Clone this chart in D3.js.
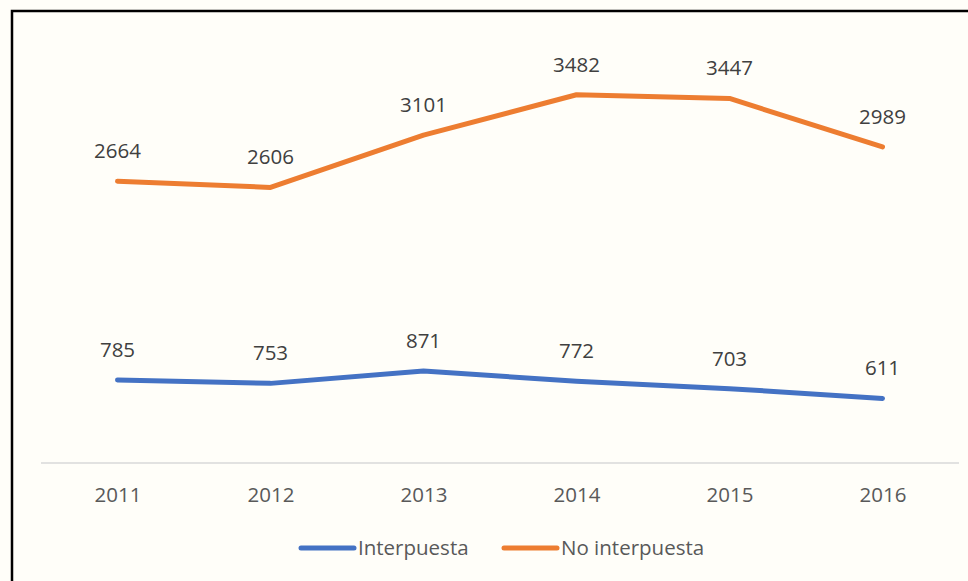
<!DOCTYPE html>
<html>
<head>
<meta charset="utf-8">
<script src="https://cdn.jsdelivr.net/npm/d3@7/dist/d3.min.js"></script>
<style>
  html, body { margin: 0; padding: 0; background: #FFFEF9; }
  svg { display: block; }
</style>
</head>
<body>
<svg id="chart" width="968" height="581"></svg>
<script>
const years = ["2011", "2012", "2013", "2014", "2015", "2016"];
const interpuesta = [785, 753, 871, 772, 703, 611];
const noInterpuesta = [2664, 2606, 3101, 3482, 3447, 2989];
const seriesNames = ["Interpuesta", "No interpuesta"];
const seriesColors = ["#4472C4", "#ED7D31"];

const svg = d3.select("#chart");
const W = 968, H = 581;
const font = "'Open Sans', 'Noto Sans', sans-serif";

svg.append("rect").attr("width", W).attr("height", H).attr("fill", "#FFFEF9");
svg.append("path")
  .attr("d", "M12,581 L12,11 L968,11")
  .attr("fill", "none").attr("stroke", "#000").attr("stroke-width", 2.5);

const x = d3.scalePoint().domain(years).range([41, 959]).padding(0.5);
const y = d3.scaleLinear().domain([0, 4000]).range([463, 40]);

svg.append("line")
  .attr("x1", 41).attr("x2", 959)
  .attr("y1", y(0)).attr("y2", y(0))
  .attr("stroke", "#D9D9D9").attr("stroke-width", 1.5);

const xAxis = d3.axisBottom(x).tickSize(0).tickPadding(0);
const gx = svg.append("g").attr("transform", `translate(0,${y(0)})`).call(xAxis);
gx.select(".domain").remove();
gx.selectAll("text")
  .attr("y", 39).attr("dy", null)
  .attr("fill", "#595959")
  .style("font-family", font).style("font-size", "20.5px");

const series = [interpuesta, noInterpuesta];
const line = d3.line().x((d, i) => x(years[i])).y(d => y(d));

series.forEach((vals, s) => {
  svg.append("path")
    .datum(vals)
    .attr("d", line)
    .attr("fill", "none")
    .attr("stroke", seriesColors[s])
    .attr("stroke-width", 5)
    .attr("stroke-linejoin", "round")
    .attr("stroke-linecap", "round");
  svg.append("g").selectAll("text")
    .data(vals)
    .join("text")
    .attr("x", (d, i) => x(years[i]))
    .attr("y", d => y(d) - 23)
    .attr("text-anchor", "middle")
    .attr("fill", "#404040")
    .style("font-family", font).style("font-size", "20.5px")
    .text(d => d);
});

const legendItems = [
  { name: seriesNames[0], color: seriesColors[0], x1: 301, x2: 354, tx: 358 },
  { name: seriesNames[1], color: seriesColors[1], x1: 504, x2: 557, tx: 561 }
];
const lg = svg.append("g");
legendItems.forEach(it => {
  lg.append("line")
    .attr("x1", it.x1).attr("x2", it.x2).attr("y1", 548).attr("y2", 548)
    .attr("stroke", it.color).attr("stroke-width", 5).attr("stroke-linecap", "round");
  lg.append("text")
    .attr("x", it.tx).attr("y", 555)
    .attr("fill", "#595959")
    .style("font-family", font).style("font-size", "20.5px")
    .text(it.name);
});
</script>
</body>
</html>
